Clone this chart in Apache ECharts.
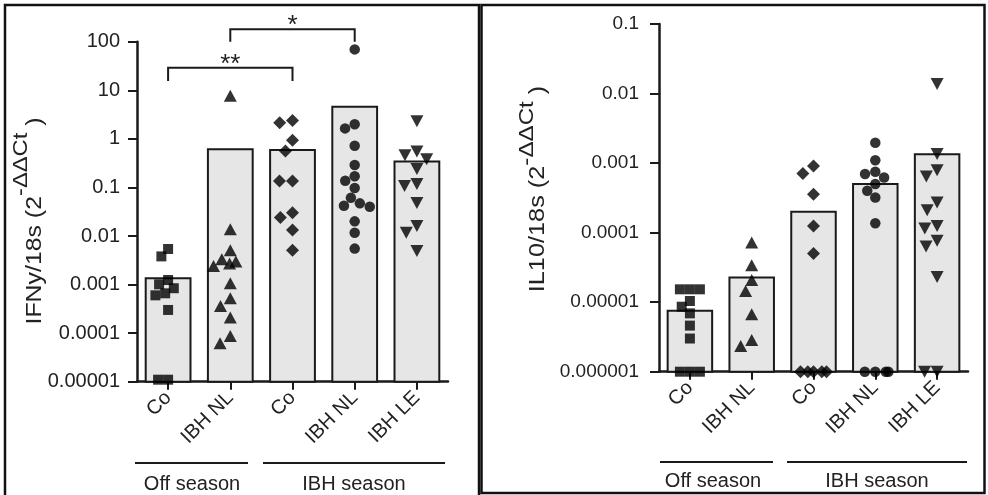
<!DOCTYPE html>
<html><head><meta charset="utf-8">
<script src="https://cdn.jsdelivr.net/npm/echarts@6/dist/echarts.min.js"></script>
<style>html,body{margin:0;padding:0;background:#fff}#c{width:988px;height:495px}</style>
</head><body><div id="c"></div><script>
// ---------- data ----------
const categories = ['Co', 'IBH NL', 'Co', 'IBH NL', 'IBH LE'];
const groupNames = ['Off season', 'IBH season'];
const ifnTickLabels = ['0.00001', '0.0001', '0.001', '0.01', '0.1', '1', '10', '100'];
const il10TickLabels = ['0.000001', '0.00001', '0.0001', '0.001', '0.01', '0.1'];
const ifnMin = 0.00001, ifnMax = 100;
const il10Min = 0.000001, il10Max = 0.1;

const ifnMeans = [0.00135, 0.61, 0.59, 4.6, 0.34];
const il10Means = [0.0000075, 0.0000227, 0.0002, 0.0005, 0.00134];

const ifnOffCo = [0.0054, 0.0038, 0.00124, 0.00101, 0.00084, 0.00066, 0.0006, 0.0003, 0.000011, 0.000011];
const ifnOffNL = [7.7, 0.0137, 0.0051, 0.0033, 0.003, 0.0027, 0.0024, 0.00106, 0.00052, 0.00036, 0.00021, 0.000087, 0.000062];
const ifnSeasonCo = [2.4, 2.15, 0.94, 0.56, 0.135, 0.135, 0.030, 0.024, 0.0133, 0.0051];
const ifnSeasonNL = [69.5, 2.0, 1.64, 0.72, 0.29, 0.17, 0.137, 0.097, 0.061, 0.047, 0.042, 0.040, 0.020, 0.0117, 0.0055];
const ifnSeasonLE = [2.3, 0.55, 0.46, 0.38, 0.24, 0.117, 0.107, 0.048, 0.016, 0.0117, 0.0049];

const il10OffCo = [0.0000153, 0.0000153, 0.0000153, 0.0000104, 0.0000086, 0.0000069, 0.0000046, 0.000003, 0.000001, 0.000001, 0.000001];
const il10OffNL = [0.000072, 0.000034, 0.0000208, 0.0000145, 0.0000067, 0.00000285, 0.00000234];
const il10SeasonCo = [0.00091, 0.00071, 0.000355, 0.000124, 0.00005, 0.000001, 0.000001, 0.000001, 0.000001, 0.000001];
const il10SeasonNL = [0.00196, 0.0011, 0.00075, 0.000697, 0.00062, 0.0005, 0.0004, 0.00032, 0.000136, 0.000001, 0.000001, 0.000001, 0.000001];
const il10SeasonLE = [0.0137, 0.00135, 0.00079, 0.00064, 0.00027, 0.00021, 0.000124, 0.000115, 0.0000765, 0.000063, 0.000023, 0.000001, 0.000001];

// significance brackets (left panel): from category, to category, label
const sigFrom = [0, 1];
const sigTo = [2, 3];
const sigLabel = ['**', '*'];
const sigLevel = [29, 180];
const sigLeg = [15.5, 100];

// ---------- styles ----------
const FONT = "'Liberation Sans', Arial, Helvetica, sans-serif";
const INK = '#1a1a1a';
const symbols = [
  { symbol: 'rect', size: 10, rotate: 0 },
  { symbol: 'triangle', size: [13, 12], rotate: 0 },
  { symbol: 'diamond', size: [13, 13], rotate: 0 },
  { symbol: 'circle', size: 10.5, rotate: 0 },
  { symbol: 'triangle', size: [13, 12], rotate: 180 }
];

function makeTickFormatter(labels, minVal) {
  const e0 = Math.round(Math.log10(minVal));
  return function (v) {
    const idx = Math.round(Math.log10(v)) - e0;
    return labels[idx] !== undefined ? labels[idx] : '';
  };
}

function barRender(yMin) {
  return function (params, api) {
    const c = api.value(0), v = api.value(1);
    const top = api.coord([c, v]);
    const base = api.coord([c, yMin]);
    const bw = api.size([1, 1], [c, 1])[0] * 0.72;
    return {
      type: 'rect',
      shape: { x: top[0] - bw / 2, y: top[1], width: bw, height: base[1] - top[1] },
      style: { fill: '#e6e6e6', stroke: INK, lineWidth: 2 }
    };
  };
}

function xAxisCfg(gridIndex) {
  return {
    type: 'category', gridIndex: gridIndex, data: categories, position: 'bottom',
    jitter: 34, jitterOverlap: false, jitterMargin: 0,
    axisLine: { show: true, lineStyle: { color: INK, width: 2.5 } },
    axisTick: { show: true, inside: false, alignWithLabel: true, length: 8, lineStyle: { color: INK, width: 2 } },
    axisLabel: { inside: false, rotate: 45, margin: 13, fontSize: 20, color: '#222', fontFamily: FONT, interval: 0 },
    splitLine: { show: false }
  };
}
function yAxisCfg(gridIndex, min, max, labels, fs, margin) {
  return {
    type: 'log', logBase: 10, gridIndex: gridIndex, min: min, max: max, interval: 1, position: 'left',
    axisLine: { show: true, lineStyle: { color: INK, width: 2.5 } },
    axisTick: { show: true, inside: false, length: 9, lineStyle: { color: INK, width: 2 } },
    axisLabel: { inside: false, fontSize: fs, color: '#222', fontFamily: FONT, margin: margin, formatter: makeTickFormatter(labels, min) },
    splitLine: { show: false }, minorTick: { show: false }
  };
}

function scatterSeries(gridIdx, arrays) {
  return arrays.map(function (arr, i) {
    return {
      type: 'scatter', xAxisIndex: gridIdx, yAxisIndex: gridIdx, z: 5, clip: false,
      symbol: symbols[i].symbol, symbolSize: symbols[i].size, symbolRotate: symbols[i].rotate,
      itemStyle: { color: '#000' },
      data: arr.map(function (v) { return [i, v]; })
    };
  });
}

const chart = echarts.init(document.getElementById('c'), null, { renderer: 'canvas' });

const series = [
  { type: 'custom', xAxisIndex: 0, yAxisIndex: 0, z: 2, renderItem: barRender(ifnMin),
    data: ifnMeans.map(function (v, i) { return [i, v]; }) },
  { type: 'custom', xAxisIndex: 1, yAxisIndex: 1, z: 2, renderItem: barRender(il10Min),
    data: il10Means.map(function (v, i) { return [i, v]; }) },
  { type: 'custom', xAxisIndex: 0, yAxisIndex: 0, z: 6, clip: false,
    data: sigFrom.map(function (f, i) { return [f, sigLevel[i]]; }),
    renderItem: function (params, api) {
      const i = params.dataIndex;
      const a = api.coord([sigFrom[i], sigLevel[i]]);
      const b = api.coord([sigTo[i], sigLevel[i]]);
      const leg = api.coord([sigFrom[i], sigLeg[i]]);
      return {
        type: 'group', children: [
          { type: 'polyline', shape: { points: [[a[0], leg[1]], a, b, [b[0], leg[1]]] },
            style: { stroke: INK, lineWidth: 2, fill: null } },
          { type: 'text', x: (a[0] + b[0]) / 2, y: a[1] - 3,
            style: { text: sigLabel[i], fontSize: 26, fontFamily: FONT, fill: '#222', align: 'center', verticalAlign: 'middle' } }
        ]
      };
    }
  }
].concat(scatterSeries(0, [ifnOffCo, ifnOffNL, ifnSeasonCo, ifnSeasonNL, ifnSeasonLE]))
 .concat(scatterSeries(1, [il10OffCo, il10OffNL, il10SeasonCo, il10SeasonNL, il10SeasonLE]));

function yTitle(x, y, mainText, lh, sx) {
  return {
    type: 'text', x: x, y: y, rotation: Math.PI / 2, scaleX: sx, scaleY: 1,
    style: {
      text: '{m|' + mainText + '}{s|-ΔΔCt}{m| )}{z|\u200b}',
      align: 'center', verticalAlign: 'middle', fontFamily: FONT, fill: '#222',
      rich: {
        m: { fontSize: 22, lineHeight: 24, verticalAlign: 'bottom', fontFamily: FONT, fill: '#222' },
        s: { fontSize: 21, lineHeight: 24, verticalAlign: 'top', fontFamily: FONT, fill: '#222' },
        z: { fontSize: 22, lineHeight: lh, fontFamily: FONT }
      }
    }
  };
}

const graphics = [
  { type: 'rect', shape: { x: 5, y: 5, width: 474, height: 500 }, style: { fill: null, stroke: '#111', lineWidth: 2.5 } },
  { type: 'rect', shape: { x: 481.5, y: 5, width: 503, height: 488 }, style: { fill: null, stroke: '#111', lineWidth: 2.5 } },
  // group lines & labels, left
  { type: 'line', shape: { x1: 135, y1: 463, x2: 248, y2: 463 }, style: { stroke: INK, lineWidth: 2 } },
  { type: 'line', shape: { x1: 263, y1: 463, x2: 445, y2: 463 }, style: { stroke: INK, lineWidth: 2 } },
  { type: 'text', x: 192, y: 484, style: { text: groupNames[0], fontSize: 20, fontFamily: FONT, fill: '#222', align: 'center', verticalAlign: 'middle' } },
  { type: 'text', x: 354, y: 484, style: { text: groupNames[1], fontSize: 20, fontFamily: FONT, fill: '#222', align: 'center', verticalAlign: 'middle' } },
  // right
  { type: 'line', shape: { x1: 660, y1: 462, x2: 773, y2: 462 }, style: { stroke: INK, lineWidth: 2 } },
  { type: 'line', shape: { x1: 787, y1: 462, x2: 967, y2: 462 }, style: { stroke: INK, lineWidth: 2 } },
  { type: 'text', x: 713, y: 481, style: { text: groupNames[0], fontSize: 20, fontFamily: FONT, fill: '#222', align: 'center', verticalAlign: 'middle' } },
  { type: 'text', x: 877, y: 481, style: { text: groupNames[1], fontSize: 20, fontFamily: FONT, fill: '#222', align: 'center', verticalAlign: 'middle' } },
  yTitle(28, 221, 'IFNy/18s (2', 35, 1.13),
  yTitle(533, 189, 'IL10/18s (2', 32, 1.15)
];

chart.setOption({
  animation: false,
  backgroundColor: '#fff',
  grid: [
    { left: 137, top: 41.7, width: 311, height: 340, containLabel: false },
    { left: 659, top: 24, width: 309, height: 347.7, containLabel: false }
  ],
  xAxis: [xAxisCfg(0), xAxisCfg(1)],
  yAxis: [yAxisCfg(0, ifnMin, ifnMax, ifnTickLabels, 20, 17), yAxisCfg(1, il10Min, il10Max, il10TickLabels, 19, 20)],
  series: series,
  graphic: graphics
});
</script></body></html>
